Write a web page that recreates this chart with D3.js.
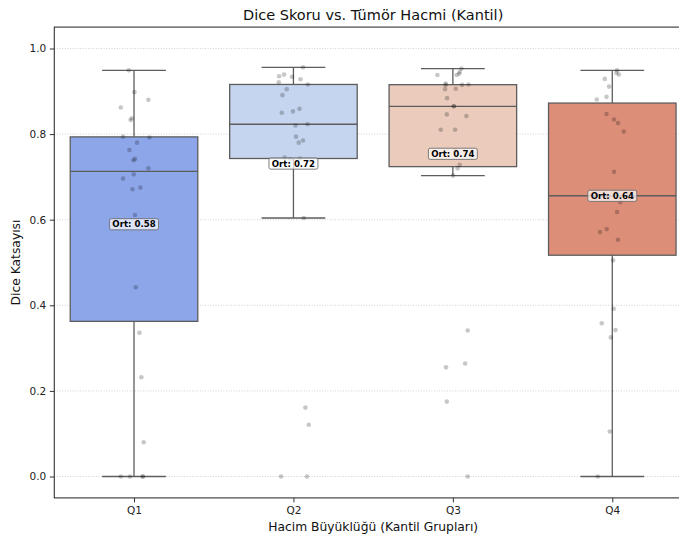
<!DOCTYPE html>
<html>
<head>
<meta charset="utf-8">
<script src="https://cdn.jsdelivr.net/npm/d3@7"></script>
<style>
  html, body { margin: 0; padding: 0; background: #ffffff; }
  svg { display: block; font-family: "DejaVu Sans", sans-serif; }
</style>
</head>
<body>
<svg id="chart" width="679" height="538"></svg>
<script>
// Volume quartile groups
const categories = ["Q1", "Q2", "Q3", "Q4"];

// Dice scores per group
const diceQ1 = [0.949, 0.898, 0.880, 0.862, 0.837, 0.833, 0.794, 0.792, 0.780, 0.763, 0.742, 0.739, 0.720,
                0.706, 0.696, 0.671, 0.675, 0.611, 0.442, 0.336, 0.232, 0.080, 0, 0, 0, 0];
const diceQ2 = [0.956, 0.935, 0.939, 0.934, 0.928, 0.921, 0.916, 0.905, 0.891, 0.850, 0.853, 0.859, 0.820,
                0.823, 0.794, 0.785, 0.780, 0.745, 0.743, 0.741, 0.604, 0.161, 0.121, 0, 0];
const diceQ3 = [0.953, 0.938, 0.938, 0.941, 0.945, 0.915, 0.915, 0.916, 0.918, 0.905, 0.906, 0.884, 0.865,
                0.865, 0.846, 0.842, 0.810, 0.810, 0.762, 0.728, 0.720, 0.703, 0.341, 0.264, 0.255, 0.175, 0];
const diceQ4 = [0.949, 0.943, 0.939, 0.929, 0.911, 0.887, 0.881, 0.847, 0.834, 0.826, 0.806, 0.712, 0.662,
                0.650, 0.641, 0.618, 0.571, 0.578, 0.553, 0.505, 0.392, 0.358, 0.342, 0.325, 0.105, 0];

// Horizontal strip jitter for each point (fraction of a category step)
const jitterQ1 = [-0.033, 0.003, 0.090, -0.083, -0.014, -0.021, -0.069, 0.097, 0.019, -0.029, 0.006, -0.004, 0.090,
                  -0.002, -0.069, -0.010, 0.040, 0.006, 0.011, 0.034, 0.046, 0.061, -0.083, -0.025, 0.055, 0.055];
const jitterQ2 = [0.060, -0.090, -0.059, -0.009, 0.044, -0.092, 0.090, -0.042, -0.069, -0.073, -0.003, 0.038, 0.013,
                  0.088, 0.016, 0.060, 0.033, -0.055, 0.040, -0.020, 0.065, 0.075, 0.096, -0.078, 0.085];
const jitterQ3 = [0.054, -0.097, 0.024, 0.039, 0.043, -0.045, 0.058, 0.098, -0.045, -0.049, 0.018, -0.036, 0.006,
                  0.006, -0.038, 0.085, -0.076, 0.014, 0.014, 0.043, 0.030, 0.001, 0.093, 0.077, -0.043, -0.038, 0.093];
const jitterQ4 = [0.030, 0.026, 0.041, -0.047, -0.020, -0.036, -0.097, -0.036, 0.011, 0.036, 0.072, 0.011, 0.020,
                  -0.030, 0.050, 0.030, -0.077, -0.035, 0.035, 0.005, 0.009, -0.066, 0.020, -0.009, -0.016, -0.091];

const yTicks = [0.0, 0.2, 0.4, 0.6, 0.8, 1.0];
const boxColors = ["#8ca6e9", "#c6d5ef", "#eacbbc", "#dc8e79"];

const groups = [diceQ1, diceQ2, diceQ3, diceQ4];
const jitters = [jitterQ1, jitterQ2, jitterQ3, jitterQ4];

const svg = d3.select("#chart");
const W = 679, H = 538;
svg.append("rect").attr("width", W).attr("height", H).attr("fill", "#ffffff");

const plot = { left: 54.3, right: 692, top: 27.1, bottom: 497.9 };

const x = d3.scalePoint().domain(categories).range([plot.left, plot.right]).padding(0.5);
const step = x.step();
const y = d3.scaleLinear().domain([-0.05, 1.05]).range([plot.bottom, plot.top]);

// Dotted horizontal grid
svg.append("g").selectAll("line").data(yTicks).join("line")
  .attr("x1", plot.left).attr("x2", plot.right)
  .attr("y1", d => y(d)).attr("y2", d => y(d))
  .attr("stroke", "#c4c4c4").attr("stroke-width", 0.8)
  .attr("stroke-dasharray", "1,1.6");

// Box statistics (linear-interpolated quartiles, 1.5 IQR whiskers)
const stats = groups.map((vals, i) => {
  const s = vals.slice().sort(d3.ascending);
  const q1 = d3.quantileSorted(s, 0.25);
  const med = d3.quantileSorted(s, 0.5);
  const q3 = d3.quantileSorted(s, 0.75);
  const iqr = q3 - q1;
  const lo = d3.min(s.filter(v => v >= q1 - 1.5 * iqr));
  const hi = d3.max(s.filter(v => v <= q3 + 1.5 * iqr));
  return { cat: categories[i], q1, med, q3, lo, hi, mean: d3.mean(vals), color: boxColors[i] };
});

const lineColor = "#5d5d5d";
const boxW = step * 0.8;
const capW = step * 0.4;

const bx = svg.append("g").selectAll("g").data(stats).join("g");
// whiskers
bx.append("line")
  .attr("x1", d => x(d.cat)).attr("x2", d => x(d.cat))
  .attr("y1", d => y(d.q3)).attr("y2", d => y(d.hi))
  .attr("stroke", lineColor).attr("stroke-width", 1.3);
bx.append("line")
  .attr("x1", d => x(d.cat)).attr("x2", d => x(d.cat))
  .attr("y1", d => y(d.q1)).attr("y2", d => y(d.lo))
  .attr("stroke", lineColor).attr("stroke-width", 1.3);
// caps
bx.append("line")
  .attr("x1", d => x(d.cat) - capW / 2).attr("x2", d => x(d.cat) + capW / 2)
  .attr("y1", d => y(d.hi)).attr("y2", d => y(d.hi))
  .attr("stroke", lineColor).attr("stroke-width", 1.3);
bx.append("line")
  .attr("x1", d => x(d.cat) - capW / 2).attr("x2", d => x(d.cat) + capW / 2)
  .attr("y1", d => y(d.lo)).attr("y2", d => y(d.lo))
  .attr("stroke", lineColor).attr("stroke-width", 1.3);
// boxes
bx.append("rect")
  .attr("x", d => x(d.cat) - boxW / 2).attr("width", boxW)
  .attr("y", d => y(d.q3)).attr("height", d => y(d.q1) - y(d.q3))
  .attr("fill", d => d.color)
  .attr("stroke", lineColor).attr("stroke-width", 1.3);
// medians
bx.append("line")
  .attr("x1", d => x(d.cat) - boxW / 2).attr("x2", d => x(d.cat) + boxW / 2)
  .attr("y1", d => y(d.med)).attr("y2", d => y(d.med))
  .attr("stroke", lineColor).attr("stroke-width", 1.3);

// Strip points
const pts = [];
groups.forEach((vals, i) => vals.forEach((v, j) => pts.push({ cat: categories[i], v, dx: jitters[i][j] })));
svg.append("g").selectAll("circle").data(pts).join("circle")
  .attr("cx", d => x(d.cat) + d.dx * step)
  .attr("cy", d => y(d.v))
  .attr("r", 2.3)
  .attr("fill", "#000000").attr("fill-opacity", 0.22);

// Mean labels
const lbl = svg.append("g").selectAll("g").data(stats).join("g")
  .attr("transform", d => `translate(${x(d.cat)},${y(d.mean + 0.011)})`);
lbl.append("text")
  .attr("text-anchor", "middle").attr("dominant-baseline", "central")
  .attr("font-size", 8.6).attr("font-weight", "bold").attr("fill", "#000")
  .text(d => `Ort: ${d.mean.toFixed(2)}`);
lbl.each(function () {
  const g = d3.select(this);
  const bb = g.select("text").node().getBBox();
  g.insert("rect", "text")
    .attr("x", bb.x - 2.8).attr("y", bb.y - 0.6)
    .attr("width", bb.width + 5.6).attr("height", bb.height + 1.2)
    .attr("rx", 1.8)
    .attr("fill", "#ffffff").attr("fill-opacity", 0.7)
    .attr("stroke", "#6f6f6f").attr("stroke-width", 0.9);
});

// Axes
const yAxis = svg.append("g").attr("transform", `translate(${plot.left},0)`)
  .call(d3.axisLeft(y).tickValues(yTicks).tickFormat(d3.format(".1f")).tickSize(4.5).tickPadding(3.5));
const xAxis = svg.append("g").attr("transform", `translate(0,${plot.bottom})`)
  .call(d3.axisBottom(x).tickSize(4.5).tickPadding(4));
[yAxis, xAxis].forEach(a => {
  a.select(".domain").remove();
  a.selectAll(".tick line").attr("stroke", "#333").attr("stroke-width", 1);
  a.selectAll(".tick text").attr("font-size", 10.5).attr("fill", "#222")
    .attr("font-family", "DejaVu Sans, sans-serif");
});

// Frame
svg.append("rect")
  .attr("x", plot.left).attr("y", plot.top)
  .attr("width", plot.right - plot.left).attr("height", plot.bottom - plot.top)
  .attr("fill", "none").attr("stroke", "#333").attr("stroke-width", 1.1);

// Titles
const cx = (plot.left + plot.right) / 2;
svg.append("text").attr("x", cx).attr("y", 15).attr("text-anchor", "middle")
  .attr("dominant-baseline", "central").attr("font-size", 14.5).attr("fill", "#111")
  .text("Dice Skoru vs. Tümör Hacmi (Kantil)");
svg.append("text").attr("x", cx).attr("y", 527).attr("text-anchor", "middle")
  .attr("dominant-baseline", "central").attr("font-size", 12.3).attr("fill", "#111")
  .text("Hacim Büyüklüğü (Kantil Grupları)");
svg.append("text")
  .attr("transform", `translate(16,${(plot.top + plot.bottom) / 2}) rotate(-90)`)
  .attr("text-anchor", "middle").attr("dominant-baseline", "central")
  .attr("font-size", 12.3).attr("fill", "#111")
  .text("Dice Katsayısı");
</script>
</body>
</html>
